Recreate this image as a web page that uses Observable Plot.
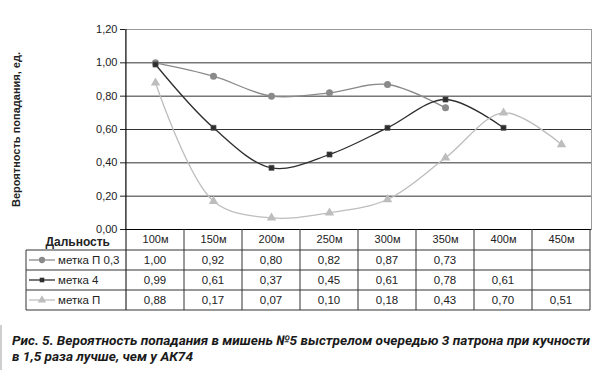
<!DOCTYPE html>
<html><head><meta charset="utf-8">
<script src="https://cdn.jsdelivr.net/npm/d3@7"></script>
<script src="https://cdn.jsdelivr.net/npm/@observablehq/plot@0.6"></script>
<style>
body{margin:0;background:#fff;}
#wrap{position:relative;width:600px;height:375px;background:#fff;overflow:hidden;}
#chart svg{display:block;}
#chart g[aria-label="y-axis label"] text{font-weight:bold;}
#capbar{position:absolute;left:0;top:325px;width:2px;height:45px;background:#cfcfcf;}
#caption{position:absolute;left:12px;top:332px;white-space:nowrap;transform-origin:0 0;font-family:Roboto,"Open Sans",sans-serif;font-weight:bold;font-style:italic;font-size:13.5px;line-height:16px;color:#1a1a1a;}
</style></head><body>
<div id="wrap"><div id="chart"></div><div id="capbar"></div><div id="caption"></div></div>
<script>
const categories = ["100м","150м","200м","250м","300м","350м","400м","450м"];
const seriesNames = ["метка П 0,3","метка 4","метка П"];
const valsP03 = [1.00,0.92,0.80,0.82,0.87,0.73,null,null];
const vals4   = [0.99,0.61,0.37,0.45,0.61,0.78,0.61,null];
const valsP   = [0.88,0.17,0.07,0.10,0.18,0.43,0.70,0.51];
const yTicks = [0,0.2,0.4,0.6,0.8,1.0,1.2];
const yLabel = "Вероятность попадания, ед.";
const headerLabel = "Дальность";
const captionText = ["Рис. 5. Вероятность попадания в мишень №5 выстрелом очередью 3 патрона при кучности","в 1,5 раза лучше, чем у АК74"];

const seriesVals = [valsP03, vals4, valsP];
const seriesColor = ["#8a8a8a","#2e2e2e","#bdbdbd"];
const seriesSymbol = ["circle","square","triangle"];
const seriesR = [3.5,2.9,3.5];

const rows = [];
seriesNames.forEach((s,i)=>seriesVals[i].forEach((v,j)=>{ if(v!=null) rows.push({series:s, cat:categories[j], value:v}); }));
const fmt = v => v.toFixed(2).replace(".", ",");

const marks = [
  Plot.frame({stroke:"#9a9a9a"}),
  Plot.ruleY(yTicks.filter(v=>v>0 && v<1.2), {stroke:"#333", strokeWidth:1}),
  Plot.ruleY([0], {stroke:"#000", strokeWidth:1})
];
seriesNames.forEach((s,i)=>{
  const d = rows.filter(r=>r.series===s);
  marks.push(Plot.line(d, {x:"cat", y:"value", curve:"catmull-rom", stroke:seriesColor[i], strokeWidth:1.3}));
});
seriesNames.forEach((s,i)=>{
  const d = rows.filter(r=>r.series===s);
  marks.push(Plot.dot(d, {x:"cat", y:"value", symbol:seriesSymbol[i], r:seriesR[i], fill:seriesColor[i], stroke:i===1?"#555":"none", strokeWidth:0.6}));
});

const chart = Plot.plot({
  width:600, height:312, marginTop:29, marginBottom:83, marginLeft:125, marginRight:9,
  style:{fontFamily:"'Liberation Sans', Arial, sans-serif", fontSize:"11px", color:"#222", background:"#fff", overflow:"visible"},
  x:{type:"point", domain:categories, padding:0.5, label:null, tickSize:0, tickPadding:6},
  y:{domain:[0,1.2], ticks:yTicks, tickFormat:fmt, label:yLabel, labelAnchor:"center", labelOffset:113, labelArrow:"none", tickSize:5, tickPadding:3},
  marks
});
document.getElementById("chart").appendChild(chart);

// data table under the plot, positioned with the plot's own x scale
const xs = chart.scale("x");
const step = xs.apply(categories[1]) - xs.apply(categories[0]);
const x0 = xs.apply(categories[0]) - step/2;
const x1 = xs.apply(categories[categories.length-1]) + step/2;
const tTop = 312 - 83;
const rowTops = [tTop, tTop+21, tTop+41, tTop+61, tTop+81];
const tableLeft = 26;
const svg = d3.select(chart);
const g = svg.append("g").attr("aria-label","table").attr("text-anchor","start");
g.append("line").attr("x1",x0).attr("x2",x0).attr("y1",29).attr("y2",rowTops[4]).attr("stroke","#000");
for(let k=1;k<=categories.length;k++){
  const xx = x0 + k*step;
  g.append("line").attr("x1",xx).attr("x2",xx).attr("y1",tTop).attr("y2",rowTops[4]).attr("stroke","#333");
}
for(let r=1;r<rowTops.length;r++){
  g.append("line").attr("x1",tableLeft).attr("x2",x1).attr("y1",rowTops[r]).attr("y2",rowTops[r]).attr("stroke","#333");
}
g.append("line").attr("x1",tableLeft).attr("x2",tableLeft).attr("y1",rowTops[1]).attr("y2",rowTops[4]).attr("stroke","#333");
g.append("text").attr("x",x0-16).attr("y",(rowTops[0]+rowTops[1])/2+2).attr("dy","0.35em").attr("text-anchor","end").attr("font-weight","bold").attr("font-size","12px").attr("fill","#222").text(headerLabel);
const sym = {circle:d3.symbolCircle, square:d3.symbolSquare, triangle:d3.symbolTriangle};
seriesNames.forEach((s,i)=>{
  const cy = (rowTops[i+1]+rowTops[i+2])/2;
  g.append("line").attr("x1",29).attr("x2",55).attr("y1",cy).attr("y2",cy).attr("stroke",seriesColor[i]).attr("stroke-width",1.3);
  g.append("path").attr("transform",`translate(42,${cy})`).attr("d",d3.symbol(sym[seriesSymbol[i]], Math.PI*seriesR[i]*seriesR[i]*0.8)()).attr("fill",seriesColor[i]);
  g.append("text").attr("x",58).attr("y",cy).attr("dy","0.35em").attr("text-anchor","start").attr("font-size","11.5px").attr("fill","#222").text(s);
  seriesVals[i].forEach((v,j)=>{
    if(v==null) return;
    g.append("text").attr("x",xs.apply(categories[j])).attr("y",cy).attr("dy","0.35em").attr("text-anchor","middle").attr("font-size","11.5px").attr("fill","#222").text(fmt(v));
  });
});

const cap = document.getElementById("caption");
captionText.forEach((t,i)=>{ const d=document.createElement("div"); d.textContent=t; cap.appendChild(d); });
const w = cap.firstChild.getBoundingClientRect().width;
if (w > 0) cap.style.transform = `scaleX(${578 / w})`;
</script>
</body></html>
